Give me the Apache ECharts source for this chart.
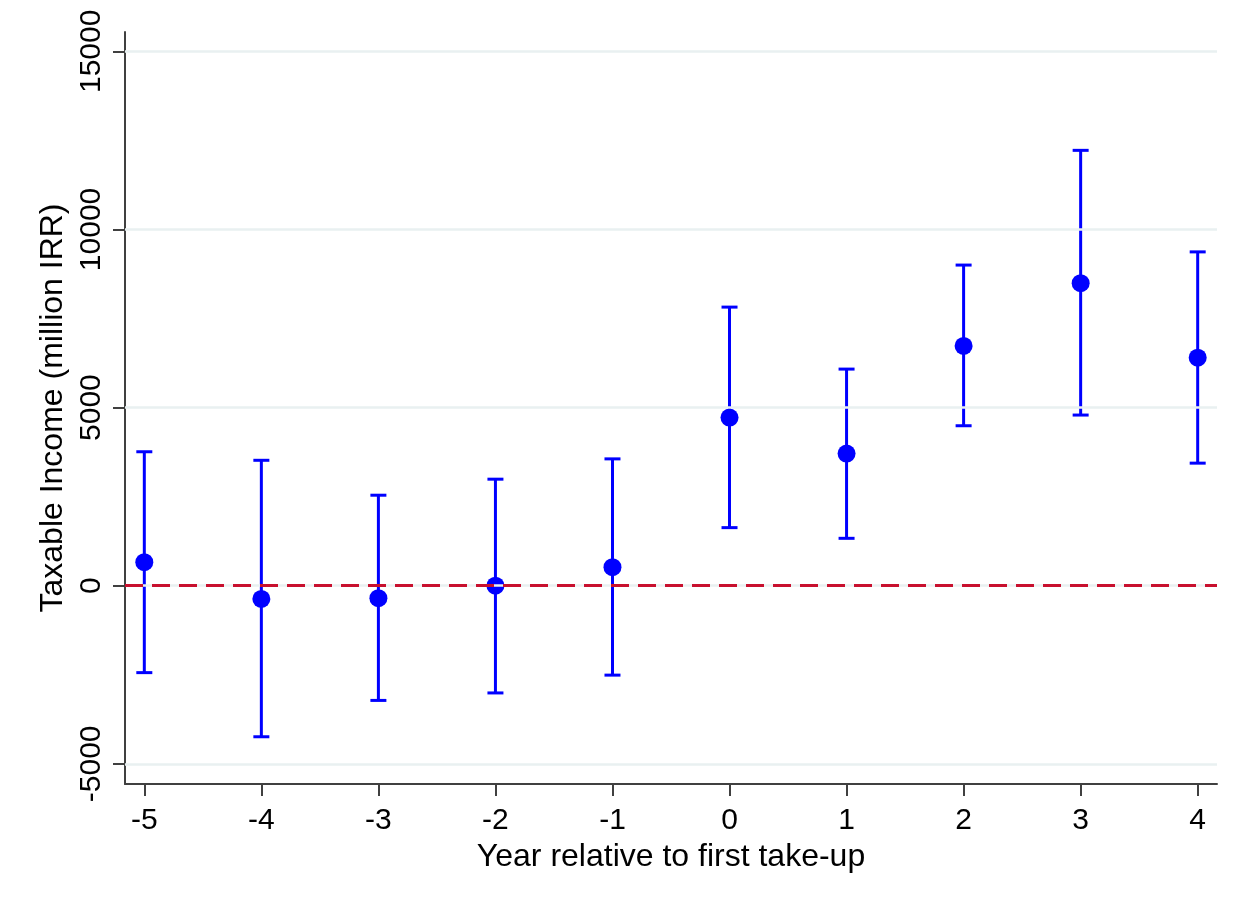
<!DOCTYPE html>
<html>
<head>
<meta charset="utf-8">
<script src="https://cdn.jsdelivr.net/npm/echarts@6/dist/echarts.min.js"></script>
<style>
html,body{margin:0;padding:0;background:#fff;}
#chart{width:1249px;height:909px;}
</style>
</head>
<body>
<div id="chart"></div>
<script>
// Data
const years  = [-5, -4, -3, -2, -1, 0, 1, 2, 3, 4];
const coef   = [660, -370, -350, 0, 520, 4720, 3710, 6730, 8490, 6400];
const ciLow  = [-2440, -4240, -3220, -3010, -2510, 1630, 1330, 4490, 4790, 3440];
const ciHigh = [3760, 3520, 2540, 2990, 3560, 7820, 6080, 9000, 12220, 9370];
const yTicks = [-5000, 0, 5000, 10000, 15000];
const xTicks = [-5, -4, -3, -2, -1, 0, 1, 2, 3, 4];
const xTitle = 'Year relative to first take-up';
const yTitle = 'Taxable Income (million IRR)';

const FONT = 'Liberation Sans, Arial, sans-serif';
const chart = echarts.init(document.getElementById('chart'), null, {renderer: 'canvas'});

const errData = years.map((y, i) => [y, ciLow[i], ciHigh[i]]);
const ptData = years.map((y, i) => [y, coef[i]]);

const option = {
  backgroundColor: '#ffffff',
  animation: false,
  grid: {left: 125, right: 32, top: 32, bottom: 125},
  xAxis: {
    type: 'value',
    min: -5.165, max: 4.165,
    name: xTitle,
    nameLocation: 'middle',
    nameGap: 49,
    nameTextStyle: {fontFamily: FONT, fontSize: 32, color: '#000'},
    axisLine: {show: true, onZero: false, lineStyle: {color: '#404040', width: 2}},
    axisTick: {show: true, inside: false, length: 12, customValues: xTicks, lineStyle: {color: '#404040', width: 2}},
    axisLabel: {show: true, customValues: xTicks, margin: 22, fontFamily: FONT, fontSize: 30, color: '#000',
      formatter: v => String(v)},
    splitLine: {show: false}
  },
  yAxis: {
    type: 'value',
    min: -5566, max: 15542,
    name: yTitle,
    nameLocation: 'middle',
    nameGap: 52,
    nameRotate: 90,
    nameTextStyle: {fontFamily: FONT, fontSize: 32, color: '#000'},
    axisLine: {show: true, onZero: false, lineStyle: {color: '#404040', width: 2}},
    axisTick: {show: true, inside: false, length: 12, customValues: yTicks, lineStyle: {color: '#404040', width: 2}},
    axisLabel: {show: true, customValues: yTicks, rotate: 90, margin: 18, fontFamily: FONT, fontSize: 30, color: '#000',
      formatter: v => String(v)},
    splitLine: {show: false}
  },
  series: [
    {
      type: 'line', data: [], silent: true, z: 1,
      markLine: {
        silent: true, symbol: 'none', animation: false,
        label: {show: false},
        lineStyle: {color: '#e9f0f1', width: 2.5, type: 'solid'},
        data: yTicks.map(v => ({yAxis: v}))
      }
    },
    {
      type: 'line', data: [], silent: true, z: 2,
      markLine: {
        silent: true, symbol: 'none', animation: false,
        label: {show: false},
        lineStyle: {color: '#c8102e', width: 3, type: [18, 9]},
        data: [{yAxis: 0}]
      }
    },
    {
      type: 'custom', z: 3,
      data: errData,
      encode: {x: 0, y: [1, 2]},
      renderItem: function (params, api) {
        const x = api.value(0);
        const pLo = api.coord([x, api.value(1)]);
        const pHi = api.coord([x, api.value(2)]);
        const hw = 8;
        const st = {stroke: '#0000ff', lineWidth: 3};
        return {
          type: 'group',
          children: [
            {type: 'line', shape: {x1: pLo[0], y1: pLo[1], x2: pHi[0], y2: pHi[1]}, style: st},
            {type: 'line', shape: {x1: pLo[0] - hw, y1: pLo[1], x2: pLo[0] + hw, y2: pLo[1]}, style: st},
            {type: 'line', shape: {x1: pHi[0] - hw, y1: pHi[1], x2: pHi[0] + hw, y2: pHi[1]}, style: st}
          ]
        };
      }
    },
    {
      type: 'scatter', z: 4,
      data: ptData,
      symbol: 'circle',
      symbolSize: 18,
      itemStyle: {color: '#0000ff', opacity: 1}
    }
  ]
};
chart.setOption(option);
</script>
</body>
</html>
